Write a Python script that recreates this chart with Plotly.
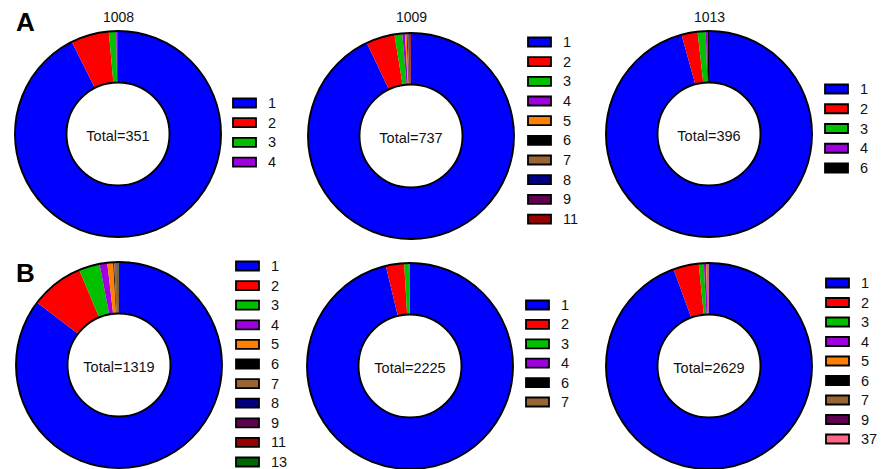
import plotly.graph_objects as go

# ---------------- data ----------------
titles = ["1008", "1009", "1013", "", "", ""]
labels_1008 = ["1", "2", "3", "4"]
values_1008 = [325, 21, 4, 1]
labels_1009 = ["1", "2", "3", "4", "5", "6", "7", "8", "9", "11"]
values_1009 = [685, 33, 9, 3, 2, 1, 1, 1, 1, 1]
labels_1013 = ["1", "2", "3", "4", "6"]
values_1013 = [379, 10, 5, 1, 1]
labels_b1 = ["1", "2", "3", "4", "5", "6", "7", "8", "9", "11", "13"]
values_b1 = [1126, 110, 43, 16, 12, 2, 5, 1, 1, 2, 1]
labels_b2 = ["1", "2", "3", "4", "6", "7"]
values_b2 = [2141, 64, 16, 2, 1, 1]
labels_b3 = ["1", "2", "3", "4", "5", "6", "7", "9", "37"]
values_b3 = [2482, 105, 21, 9, 3, 2, 4, 2, 1]

color_map = {
    "1": "#0000FF", "2": "#FF0000", "3": "#00C000", "4": "#A000E0",
    "5": "#FF8000", "6": "#000000", "7": "#996633", "8": "#000080",
    "9": "#600050", "11": "#990000", "13": "#006600", "37": "#FF6688",
}

datasets = [
    (labels_1008, values_1008), (labels_1009, values_1009), (labels_1013, values_1013),
    (labels_b1, values_b1), (labels_b2, values_b2), (labels_b3, values_b3),
]

# ---------------- layout (pixels) ----------------
W, H = 882, 469
R = 103
centers = [(118, 134), (411, 136), (709, 134), (119, 365), (410, 366), (709, 366)]
legend_pos = [  # swatch left x, first item y, spacing
    (233, 103, 19.7), (528, 42, 19.67), (825, 89, 19.75),
    (236, 266, 19.6), (526, 305, 19.4), (826, 283, 19.5),
]
FONT = "Arial, Liberation Sans, sans-serif"

def px(x):
    return x / W

def py(y):
    return 1 - y / H

fig = go.Figure()
shapes = []
annotations = []

for i, ((labs, vals), (cx, cy)) in enumerate(zip(datasets, centers)):
    dom_x = [px(cx - R), px(cx + R)]
    dom_y = [max(0, py(cy + R)), min(1, py(cy - R))]
    total = sum(vals)
    fig.add_trace(go.Pie(
        labels=labs, values=vals, hole=0.5, sort=False, direction="clockwise",
        rotation=0, textinfo="none", domain=dict(x=dom_x, y=dom_y),
        marker=dict(colors=[color_map[l] for l in labs], line=dict(width=0)),
        title=dict(text=f"Total={total}", position="middle center",
                   font=dict(family=FONT, size=14.5, color="#111")),
        showlegend=False, hoverinfo="label+value",
    ))
    # outline ring (outer and inner circles)
    fig.add_trace(go.Pie(
        labels=["ring"], values=[1], hole=0.5, sort=False, textinfo="none",
        domain=dict(x=dom_x, y=dom_y),
        marker=dict(colors=["rgba(0,0,0,0)"], line=dict(color="black", width=1.9)),
        showlegend=False, hoverinfo="skip",
    ))
    if titles[i]:
        annotations.append(dict(
            x=px(cx), y=py(17), xref="paper", yref="paper", text=titles[i],
            showarrow=False, font=dict(family=FONT, size=14, color="#111"),
            xanchor="center", yanchor="middle"))
    # custom legend
    lx, ly, sp = legend_pos[i]
    for k, lab in enumerate(labs):
        yc = ly + k * sp
        shapes.append(dict(
            type="rect", xref="paper", yref="paper",
            x0=px(lx), x1=px(lx + 23), y0=py(yc + 4.5), y1=py(yc - 4.5),
            fillcolor=color_map[lab], line=dict(color="black", width=1.8)))
        annotations.append(dict(
            x=px(lx + 33), y=py(yc), xref="paper", yref="paper", text=lab,
            showarrow=False, font=dict(family=FONT, size=14.5, color="#111"),
            xanchor="left", yanchor="middle"))

for letter, (lx, ly) in [("A", (25, 22)), ("B", (25, 273))]:
    annotations.append(dict(
        x=px(lx), y=py(ly), xref="paper", yref="paper", text=f"<b>{letter}</b>",
        showarrow=False, font=dict(family=FONT, size=26, color="black"),
        xanchor="center", yanchor="middle"))

fig.update_layout(
    width=W, height=H, margin=dict(l=0, r=0, t=0, b=0),
    paper_bgcolor="white", plot_bgcolor="white", showlegend=False,
    shapes=shapes, annotations=annotations,
)

fig.write_html("out.html")
